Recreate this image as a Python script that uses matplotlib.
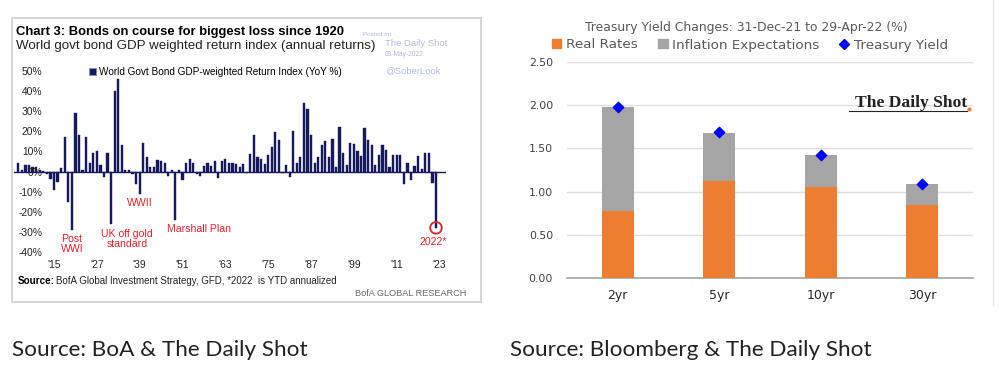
import numpy as np
import matplotlib.pyplot as plt
from matplotlib.patches import Rectangle
from matplotlib.lines import Line2D

# ---- left chart data: world govt bond GDP-weighted return index, YoY %
years = list(range(1905, 2023))
returns = [
    4, 1, 3, 3, 2, 2, 1, 0.5, -1, -3.5,            # 1905-1914
    -9, -5, 1.5, 17, -15, -29, 29, 18, 1, 17,      # 1915-1924
    4, 9, 10, 3, -2.5, 9, -26, 40, 46, 13,         # 1925-1934
    1, 1, -1, -6, -11, 14, 7, 2, 2, 5.5,           # 1935-1944
    5, 4, -2, 1, -24, 1, -4, 4, 6, 4,              # 1945-1954
    -1, -2, 2.5, 4, 2.5, 5, -3, 5, 6, 4,           # 1955-1964
    4, 3.5, 2, 3.5, -0.5, 8.5, 18, 7, 6, 3.7,      # 1965-1974
    8, 12, 19.7, 15.7, -0.5, 3, -2.5, 20, 4, 7,    # 1975-1984
    34, 31, 18, 4.3, 7.3, 13, 15, 7, 16, 2,        # 1985-1994
    22, 9, 3, 14.3, 13.5, 10, 7.5, 21.5, 15.5, 13, # 1995-2004
    3, 8, 13, 10.8, 2.2, 8.2, 8.2, 8.2, -6.2, 4,   # 2005-2014
    -4, 2.8, 7.7, 1.4, 9, 9, -5.7, -28,            # 2015-2022
]
xtick_years = [1915, 1927, 1939, 1951, 1963, 1975, 1987, 1999, 2011, 2023]
xtick_labels = ["'15", "'27", "'39", "'51", "'63", "'75", "'87", "'99", "'11", "'23"]
ytick_vals = [50, 40, 30, 20, 10, 0, -10, -20, -30, -40]

# ---- right chart data: treasury yield changes
tenors = ['2yr', '5yr', '10yr', '30yr']
real_rates = [0.78, 1.12, 1.05, 0.85]
inflation_exp = [1.20, 0.56, 0.37, 0.24]
treasury_yield = [1.98, 1.69, 1.42, 1.09]

W, H = 1000, 377
fig = plt.figure(figsize=(10, 3.77), dpi=100)
fig.patch.set_facecolor('white')


def fx(px):
    return px / W


def fy(py):
    return 1 - py / H


def box(l, t, r, b):
    return [fx(l), fy(b), fx(r) - fx(l), fy(t) - fy(b)]


NAVY = '#16195c'
RED = '#e8202a'
WM = '#b3badf'
sans = 'Liberation Sans'

# frame around left chart
fig.patches.append(Rectangle((fx(12), fy(302)), fx(481) - fx(12), fy(18) - fy(302),
                             transform=fig.transFigure, fill=False,
                             edgecolor='#d6d6d6', lw=1.5))

fig.text(fx(16), fy(32), 'Chart 3: Bonds on course for biggest loss since 1920',
         fontsize=9.4, fontweight='bold', family=sans, va='center', color='black')
fig.text(fx(16), fy(46), 'World govt bond GDP weighted return index (annual returns)',
         fontsize=9.6, family=sans, va='center', color='#222222')

# watermark
fig.text(fx(363), fy(34), 'Posted on', fontsize=4.5, family=sans, color=WM, va='center')
fig.text(fx(385), fy(43), 'The Daily Shot', fontsize=6.8, family=sans, color=WM, va='center')
fig.text(fx(385), fy(54), '03-May-2022', fontsize=4.8, family=sans, color=WM, va='center')
fig.text(fx(385), fy(71), '@SoberLook', fontsize=6.8, family=sans, color=WM, va='center')

ax1 = fig.add_axes(box(14, 66, 446, 258))
ax1.bar(years, returns, width=0.62, color=NAVY, edgecolor=NAVY, lw=0.3)
ax1.axhline(0, color=NAVY, lw=1)
ax1.set_xlim(1903.8, 2024.8)
ax1.set_ylim(-43.0, 52.46)
for s in ax1.spines.values():
    s.set_visible(False)
ax1.set_yticks(ytick_vals)
ax1.set_yticklabels([f'{v}%' for v in ytick_vals])
ax1.set_xticks(xtick_years)
ax1.set_xticklabels(xtick_labels)
ax1.tick_params(length=0, labelsize=7.4, colors='#222222')
ax1.tick_params(axis='y', pad=-20.5)
ax1.tick_params(axis='x', pad=1.5)
for lab in ax1.get_xticklabels() + ax1.get_yticklabels():
    lab.set_family(sans)
ax1.set_facecolor('none')

ax1.legend(handles=[Rectangle((0, 0), 1, 1, facecolor=NAVY, edgecolor='#8a90c0', lw=0.6)],
           labels=['World Govt Bond GDP-weighted Return Index (YoY %)'],
           loc='center', bbox_to_anchor=(fx(215), fy(72)),
           bbox_transform=fig.transFigure, frameon=False,
           prop={'family': sans, 'size': 7.2}, handlelength=0.7,
           handleheight=0.7, handletextpad=0.3)

notes = [('Post\nWWI', 1920.0, -36.0), ('UK off gold\nstandard', 1935.4, -33.6),
         ('WWII', 1939.1, -15.7), ('Marshall Plan', 1955.6, -28.6),
         ('2022*', 2021.2, -34.8)]
for txt, xx, yy in notes:
    ax1.text(xx, yy, txt, color=RED, fontsize=7.6, family=sans, ha='center',
             va='center', linespacing=0.95)
ax1.scatter([years[-1]], [returns[-1]], s=70, facecolor='none', edgecolor=RED,
            lw=1.3, zorder=5)

fig.text(fx(18), fy(281), 'Source:', fontsize=7.1, fontweight='bold', family=sans,
         va='center')
fig.text(fx(56), fy(281), 'BofA Global Investment Strategy, GFD, *2022  is YTD annualized',
         fontsize=7.0, family=sans, va='center', color='#222222')
fig.text(fx(466), fy(293), 'BofA GLOBAL RESEARCH', fontsize=6.6, family=sans,
         va='center', ha='right', color='#666666')

# ---- right chart
ORANGE = '#ed7d31'
GREY = '#a5a5a5'
BLUE = '#0000ff'
TXT = '#595959'

fig.text(fx(746), fy(28), 'Treasury Yield Changes: 31-Dec-21 to 29-Apr-22 (%)',
         fontsize=8.9, ha='center', va='center', color=TXT)

ax2 = fig.add_axes(box(567, 62, 973, 278))
xpos = np.arange(len(tenors))
ax2.bar(xpos, real_rates, width=0.315, color=ORANGE, zorder=3, label='Real Rates')
ax2.bar(xpos, inflation_exp, width=0.315, bottom=real_rates, color=GREY, zorder=3,
        label='Inflation Expectations')
ax2.scatter(xpos, treasury_yield, marker='D', s=28, color=BLUE, zorder=4,
            label='Treasury Yield')
ax2.set_xlim(-0.5, len(tenors) - 0.5)
ax2.set_ylim(0, 2.5)
ax2.set_yticks([0, 0.5, 1.0, 1.5, 2.0, 2.5])
ax2.set_yticklabels([f'{v:.2f}' for v in [0, 0.5, 1.0, 1.5, 2.0, 2.5]])
ax2.set_xticks(xpos)
ax2.set_xticklabels(tenors)
ax2.grid(axis='y', color='#e0e0e0', lw=1, zorder=0)
for s in ['top', 'right', 'left']:
    ax2.spines[s].set_visible(False)
ax2.spines['bottom'].set_color('#a6a6a6')
ax2.spines['bottom'].set_linewidth(1.2)
ax2.tick_params(length=0)
ax2.tick_params(axis='y', labelsize=7.8, colors='#404040', pad=10)
ax2.tick_params(axis='x', labelsize=9, colors='#262626', pad=8)

handles = [Rectangle((0, 0), 1, 1, color=ORANGE), Rectangle((0, 0), 1, 1, color=GREY),
           Line2D([], [], marker='D', color=BLUE, ls='none', markersize=5.5)]
ax2.legend(handles=handles, labels=['Real Rates', 'Inflation Expectations', 'Treasury Yield'],
           loc='center', bbox_to_anchor=(fx(750), fy(45)), bbox_transform=fig.transFigure,
           ncol=3, frameon=False, fontsize=9.7, labelcolor=TXT, handlelength=0.7,
           handleheight=0.6, handletextpad=0.35, columnspacing=1.5)

fig.text(fx(967), fy(103), 'The Daily Shot', family='Liberation Serif', fontweight='bold',
         fontsize=12.6, ha='right', va='center', color='#222222')
fig.add_artist(Line2D([fx(849), fx(967)], [fy(111), fy(111)], color='#222222', lw=0.8))
fig.add_artist(Line2D([fx(969)], [fy(109)], marker='o', markersize=2, color=ORANGE))

# faint right edge of right panel
fig.add_artist(Line2D([fx(993), fx(993)], [fy(0), fy(305)], color='#e6e6e6', lw=1))

# captions
fig.text(fx(12), fy(350), 'Source: BoA & The Daily Shot', family='Lato', fontsize=16.2,
         va='center', color='#222222')
fig.text(fx(510), fy(350), 'Source: Bloomberg & The Daily Shot', family='Lato', fontsize=16.2,
         va='center', color='#222222')

fig.savefig('out.png', dpi=100, facecolor='white')
